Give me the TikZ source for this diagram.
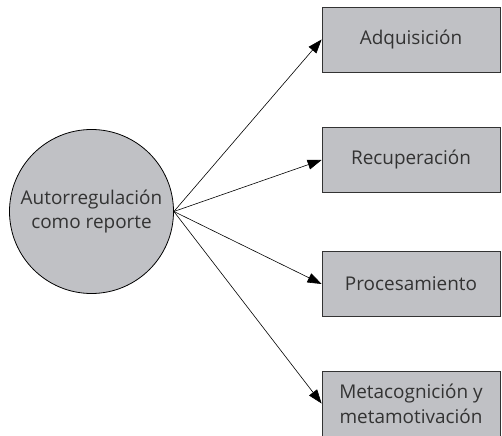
\documentclass[tikz,border=0pt]{standalone}
\usepackage{fontspec}
\setmainfont{Open Sans}
\usetikzlibrary{arrows.meta}
\definecolor{shade}{RGB}{192,193,197}
\definecolor{ink}{RGB}{51,51,51}
\begin{document}
\begin{tikzpicture}[x=1bp,y=-1bp,
  every node/.style={font=\fontsize{19}{25}\selectfont, text=ink},
  hub/.style={circle, draw=black, fill=shade, line width=0.8pt, minimum size=164bp, inner sep=0pt, align=center},
  item/.style={rectangle, draw=black!80, fill=shade, line width=0.8pt, minimum width=178bp, minimum height=65bp, inner sep=2pt, align=center},
  link/.style={draw=black, line width=0.6pt, -{Triangle[length=14bp,width=10bp]}}]
\useasboundingbox (0,0) rectangle (502,436);
\node[hub] (c) at (91.5,211.5) {Autorregulación\\como reporte};
\node[item] (a1) at (411,39.5) {Adquisición};
\node[item] (a2) at (411,160) {Recuperación};
\node[item] (a3) at (411,284) {Procesamiento};
\node[item] (a4) at (411,403.5) {Metacognición y\\metamotivación};
\foreach \t in {a1,a2,a3,a4}
  \draw[link] (c.east) -- (\t.west);
\end{tikzpicture}
\end{document}
